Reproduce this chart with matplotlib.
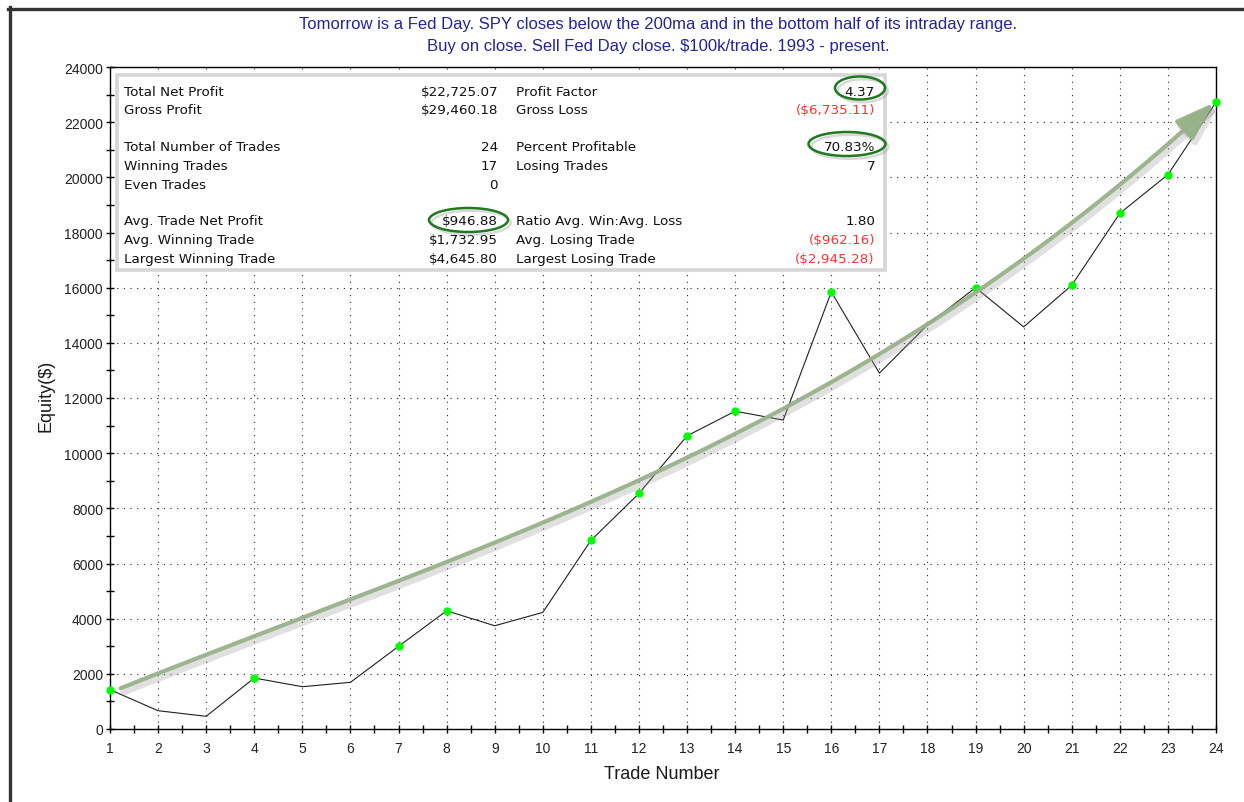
import numpy as np
import matplotlib
matplotlib.use("Agg")
import matplotlib.pyplot as plt
import matplotlib.transforms as mtransforms
import matplotlib.patheffects as pe
from matplotlib.patches import Rectangle, Ellipse, FancyArrowPatch
from matplotlib.lines import Line2D
from matplotlib.path import Path

# equity curve, one value per trade
trades = np.arange(1, 25)
equity = [1425, 663, 460, 1848, 1533, 1692, 2996, 4286, 3743, 4227, 6836, 8539,
          10627, 11522, 11200, 15846, 12900, 14650, 16003, 14577, 16087, 18696,
          20098, 22725.07]

# hand drawn trend arrow
arrow_x = [1.22, 3.98, 7.45, 12.02, 15.35, 17.98, 20.89, 21.72, 23.96]
arrow_y = [1452, 3450, 5540, 9078, 11980, 14706, 18155, 19245, 22770]

title_lines = ["Tomorrow is a Fed Day. SPY closes below the 200ma and in the bottom half of its intraday range.",
               "Buy on close. Sell Fed Day close. $100k/trade. 1993 - present."]

left_labels = ["Total Net Profit", "Gross Profit", "Total Number of Trades", "Winning Trades",
               "Even Trades", "Avg. Trade Net Profit", "Avg. Winning Trade", "Largest Winning Trade"]
left_values = ["$22,725.07", "$29,460.18", "24", "17", "0", "$946.88", "$1,732.95", "$4,645.80"]
right_labels = ["Profit Factor", "Gross Loss", "Percent Profitable", "Losing Trades", "",
                "Ratio Avg. Win:Avg. Loss", "Avg. Losing Trade", "Largest Losing Trade"]
right_values = ["4.37", "($6,735.11)", "70.83%", "7", "", "1.80", "($962.16)", "($2,945.28)"]

W, H = 1244, 803
fig = plt.figure(figsize=(W / 100, H / 100), dpi=100)
fig.patch.set_facecolor("white")
# pixel coords, origin top-left
px = mtransforms.Affine2D().scale(1 / W, -1 / H).translate(0, 1) + fig.transFigure

ax = fig.add_axes((110 / W, 1 - 730 / H, 1106 / W, 662 / H))
ax.set_xlim(1, 24)
ax.set_ylim(0, 24000)
ax.set_xticks(trades)
ax.set_xticks(np.arange(1.5, 24, 1), minor=True)
ax.set_yticks(np.arange(0, 24001, 2000))
ax.set_yticks(np.arange(1000, 24000, 2000), minor=True)
ax.grid(True, which="major", color="#222222", linestyle=(0, (1, 5)), linewidth=0.8)
ax.tick_params(which="both", direction="inout", length=6, width=1, colors="black",
               labelsize=10, labelcolor="#222222")
ax.tick_params(axis="x", pad=6)
ax.tick_params(axis="y", pad=2)
for lab in ax.get_xticklabels() + ax.get_yticklabels():
    lab.set_family("Liberation Sans")
for sp in ax.spines.values():
    sp.set_linewidth(1.0)

# equity line and new-high markers
eq = np.array(equity)
ax.plot(trades, eq, color="#202020", lw=0.8, zorder=3)
highs = eq >= np.maximum.accumulate(eq)
ax.plot(trades[highs], eq[highs], "o", color="#00ff00", ms=5, mec="#00ff00",
        zorder=4, clip_on=False)

# trend arrow
coef = np.polyfit(arrow_x, arrow_y, 3)
xs = np.linspace(arrow_x[0], arrow_x[-1], 200)
ys = np.polyval(coef, xs)
arr = FancyArrowPatch(path=Path(np.column_stack([xs, ys])),
                      arrowstyle="-|>,head_length=1.5,head_width=0.5",
                      mutation_scale=16, lw=3.0, color="#97b189", alpha=0.95,
                      zorder=5, clip_on=False)
arr.set_path_effects([pe.SimpleLineShadow(offset=(2, -3), shadow_color="0.6", alpha=0.3,
                                          linewidth=4.5),
                      pe.Normal()])
ax.add_patch(arr)

# titles and axis labels
tcol = "#23239b"
fig.text(658, 25, title_lines[0], transform=px, ha="center", va="center",
         fontsize=12, color=tcol, family="Liberation Sans", parse_math=False)
fig.text(658, 46, title_lines[1], transform=px, ha="center", va="center",
         fontsize=12, color=tcol, family="Liberation Sans", parse_math=False)
fig.text(46, 396, "Equity($)", transform=px, ha="center", va="center", rotation=90,
         fontsize=13, color="#1a1a1a", family="Liberation Sans", parse_math=False)
fig.text(662, 775, "Trade Number", transform=px, ha="center", va="center",
         fontsize=13, color="#1a1a1a", family="Liberation Sans", parse_math=False)

# stats box
box = Rectangle((116.5, 75.5), 768, 195, transform=px, facecolor="white",
                edgecolor="#d6d6d6", lw=2.6, zorder=10)
fig.add_artist(box)
row_y = [92, 111, 147.5, 166.5, 185.5, 221.5, 240.5, 259.5]
txt = dict(transform=px, va="center", fontsize=9.7, family="DejaVu Sans",
           parse_math=False, zorder=11)
for i, y in enumerate(row_y):
    fig.text(124, y, left_labels[i], ha="left", color="#111111", **txt)
    fig.text(498, y, left_values[i], ha="right", color="#111111", **txt)
    fig.text(516, y, right_labels[i], ha="left", color="#111111", **txt)
    rv = right_values[i]
    fig.text(875, y, rv, ha="right",
             color="#ff3333" if rv.startswith("(") else "#111111", **txt)

# green circles round the key numbers
for cx, cy, w, h in [(860, 89, 50, 23), (847, 145, 77, 24), (468.5, 221, 79, 24)]:
    el = Ellipse((cx, cy), w, h, transform=px, fill=False, edgecolor="#1f7a1f",
                 lw=1.8, zorder=12)
    el.set_path_effects([pe.SimpleLineShadow(offset=(2, -2), shadow_color="0.5", alpha=0.3),
                         pe.Normal()])
    fig.add_artist(el)

# outer window frame (top and left edges)
fig.add_artist(Line2D([8, W], [9.5, 9.5], transform=px, color="#333333", lw=2.4))
fig.add_artist(Line2D([9.5, 9.5], [8, H], transform=px, color="#333333", lw=2.4))

fig.savefig("out.png", dpi=100, facecolor="white")
